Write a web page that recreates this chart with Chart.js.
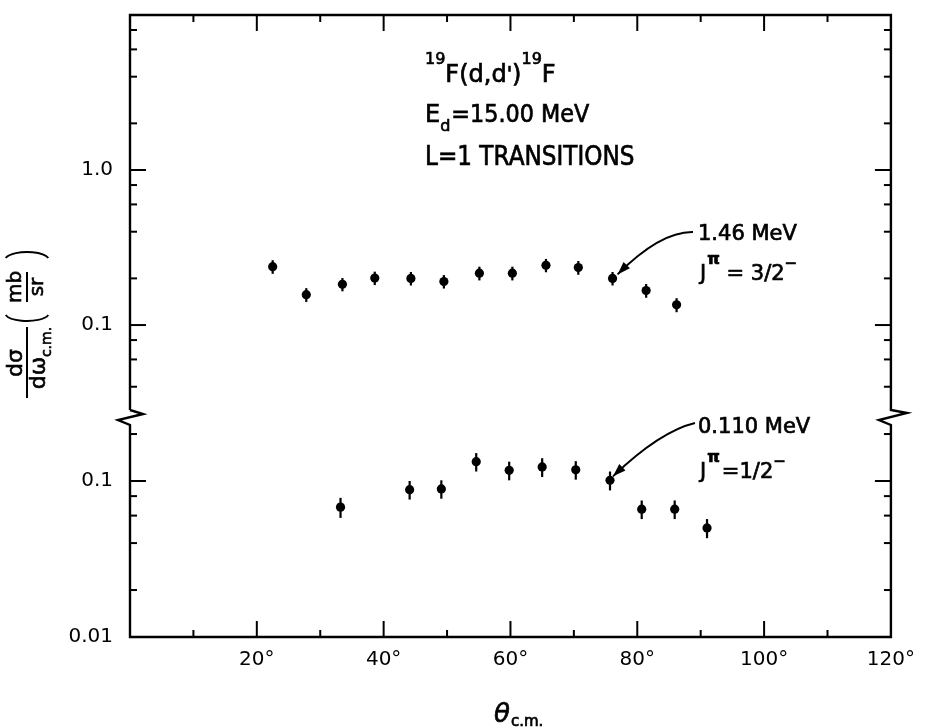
<!DOCTYPE html>
<html>
<head>
<meta charset="utf-8">
<script src="https://cdn.jsdelivr.net/npm/chart.js@4.4.1/dist/chart.umd.min.js"></script>
<style>
  html, body { margin: 0; padding: 0; background: #fff; }
  #wrap { width: 926px; height: 727px; }
</style>
</head>
<body>
<div id="wrap"><canvas id="chart" width="926" height="727"></canvas></div>
<script>
// 1.46 MeV, J = 3/2- (upper panel)
const upperAngles = [22.5, 27.8, 33.5, 38.6, 44.3, 49.5, 55.1, 60.3, 65.6, 70.7, 76.1, 81.4, 86.2];
const upperValues = [0.238, 0.157, 0.183, 0.201, 0.200, 0.191, 0.216, 0.216, 0.243, 0.235, 0.200, 0.167, 0.135];
const upperErrors = [0.024, 0.016, 0.018, 0.020, 0.020, 0.019, 0.022, 0.022, 0.024, 0.024, 0.020, 0.017, 0.014];

// 0.110 MeV, J = 1/2- (lower panel)
const lowerAngles = [33.2, 44.1, 49.1, 54.6, 59.8, 65.0, 70.3, 75.7, 80.7, 85.9, 91.0];
const lowerValues = [0.068, 0.088, 0.089, 0.133, 0.117, 0.123, 0.118, 0.101, 0.066, 0.066, 0.050];
const lowerErrors = [0.010, 0.012, 0.012, 0.018, 0.016, 0.017, 0.016, 0.014, 0.009, 0.009, 0.007];

// axes
const xTicks = [0, 10, 20, 30, 40, 50, 60, 70, 80, 90, 100, 110, 120];
const xLabelled = [20, 40, 60, 80, 100, 120];
const upperTicks = [0.04, 0.06, 0.08, 0.1, 0.2, 0.4, 0.6, 0.8, 1, 2, 4, 6, 8, 10];
const upperLabelled = [0.1, 1];
const upperLabelText = ['0.1', '1.0'];
const lowerTicks = [0.01, 0.02, 0.04, 0.06, 0.08, 0.1, 0.2];
const lowerLabelled = [0.01, 0.1];
const lowerLabelText = ['0.01', '0.1'];
const upperRange = [0.0259, 10];
const lowerRange = [0.01, 0.261];

const FONT = '"DejaVu Sans", sans-serif';

function labelFor(v, vals, texts) {
  const i = vals.findIndex(t => Math.abs(t - v) < t * 1e-6);
  return i >= 0 ? texts[i] : '';
}

function isDecade(v) {
  const l = Math.log10(v);
  return Math.abs(l - Math.round(l)) < 1e-6;
}

// draw a piece of text (a bit heavier, like the inked lettering), return x where it ends
function txt(ctx, s, x, y, size, opts = {}) {
  ctx.save();
  ctx.translate(x, y);
  ctx.scale(opts.sx || 1, 1);
  ctx.font = (opts.style || '') + ' ' + size + 'px ' + FONT;
  ctx.textAlign = 'left';
  ctx.textBaseline = 'alphabetic';
  ctx.lineWidth = 0.7;
  ctx.fillText(s, 0, 0);
  ctx.strokeText(s, 0, 0);
  const w = ctx.measureText(s).width * (opts.sx || 1);
  ctx.restore();
  return x + w;
}

// rotated text centred on (x, y), baseline to the right
function rtxt(ctx, s, x, y, size) {
  ctx.save();
  ctx.translate(x, y);
  ctx.rotate(-Math.PI / 2);
  ctx.font = size + 'px ' + FONT;
  ctx.textAlign = 'center';
  ctx.textBaseline = 'alphabetic';
  ctx.lineWidth = 0.6;
  ctx.fillText(s, 0, 0);
  ctx.strokeText(s, 0, 0);
  ctx.restore();
}

function arrow(ctx, x0, y0, cx, cy, x1, y1) {
  ctx.beginPath();
  ctx.moveTo(x0, y0);
  ctx.quadraticCurveTo(cx, cy, x1, y1);
  ctx.stroke();
  const ang = Math.atan2(y1 - cy, x1 - cx);
  const L = 13, W = 4.5;
  ctx.beginPath();
  ctx.moveTo(x1, y1);
  ctx.lineTo(x1 - L * Math.cos(ang) + W * Math.sin(ang), y1 - L * Math.sin(ang) - W * Math.cos(ang));
  ctx.lineTo(x1 - L * Math.cos(ang) - W * Math.sin(ang), y1 - L * Math.sin(ang) + W * Math.cos(ang));
  ctx.closePath();
  ctx.fill();
}

const errorBars = {
  id: 'errorBars',
  beforeDatasetsDraw(chart) {
    const ctx = chart.ctx;
    chart.data.datasets.forEach((ds, i) => {
      const meta = chart.getDatasetMeta(i);
      const xs = chart.scales[meta.xAxisID];
      const ys = chart.scales[meta.yAxisID];
      ctx.save();
      ctx.strokeStyle = '#000';
      ctx.lineWidth = 2.2;
      ds.data.forEach((p, j) => {
        const px = xs.getPixelForValue(p.x);
        ctx.beginPath();
        ctx.moveTo(px, ys.getPixelForValue(p.y - ds.errors[j]));
        ctx.lineTo(px, ys.getPixelForValue(p.y + ds.errors[j]));
        ctx.stroke();
      });
      ctx.restore();
    });
  }
};

const frame = {
  id: 'frame',
  afterDraw(chart) {
    const { ctx, chartArea: a, scales } = chart;
    const x = scales.x, yT = scales.yTop, yB = scales.yBot;
    const brk = yT.bottom;
    ctx.save();
    ctx.strokeStyle = '#000';
    ctx.fillStyle = '#000';
    ctx.lineWidth = 2.4;
    ctx.lineJoin = 'miter';

    // box with the zigzag breaks on both sides
    ctx.beginPath();
    ctx.moveTo(a.left, brk - 6);
    ctx.lineTo(a.left, a.top);
    ctx.lineTo(a.right, a.top);
    ctx.lineTo(a.right, brk - 6);
    ctx.lineTo(a.right + 16, brk - 3);
    ctx.lineTo(a.right - 12, brk + 4);
    ctx.lineTo(a.right, brk + 9);
    ctx.lineTo(a.right, a.bottom);
    ctx.lineTo(a.left, a.bottom);
    ctx.lineTo(a.left, brk + 9);
    ctx.lineTo(a.left - 12, brk + 4);
    ctx.lineTo(a.left + 13, brk - 2);
    ctx.lineTo(a.left, brk - 6);
    ctx.stroke();

    // inward ticks
    ctx.lineWidth = 2;
    const major = 16, minor = 7;
    const seg = (x0, y0, x1, y1) => { ctx.beginPath(); ctx.moveTo(x0, y0); ctx.lineTo(x1, y1); ctx.stroke(); };
    xTicks.forEach(v => {
      if (v <= x.min || v >= x.max) return;
      const px = x.getPixelForValue(v);
      const len = v % 20 === 0 ? major : minor;
      seg(px, a.bottom, px, a.bottom - len);
      seg(px, a.top, px, a.top + len);
    });
    [[yT, upperTicks], [yB, lowerTicks]].forEach(([s, ticks]) => {
      ticks.forEach(v => {
        const py = s.getPixelForValue(v);
        if (py <= a.top + 1 || py >= a.bottom - 1) return;
        const len = isDecade(v) ? major : minor;
        seg(a.left, py, a.left + len, py);
        seg(a.right, py, a.right - len, py);
      });
    });

    // reaction label
    let cx = 425;
    cx = txt(ctx, '19', cx, 64, 16);
    cx = txt(ctx, 'F(d,d', cx, 82, 24);
    cx = txt(ctx, '\'', cx, 80, 20);
    cx = txt(ctx, ')', cx, 82, 24);
    cx = txt(ctx, '19', cx, 64, 16);
    txt(ctx, 'F', cx, 82, 24);
    cx = txt(ctx, 'E', 425, 122, 24);
    cx = txt(ctx, 'd', cx, 131, 16);
    txt(ctx, '=15.00 MeV', cx + 1, 122, 24, { sx: 0.93 });
    txt(ctx, 'L=1 TRANSITIONS', 425, 165, 26, { sx: 0.89 });

    // state labels
    txt(ctx, '1.46 MeV', 698, 240, 21);
    cx = txt(ctx, 'J', 700, 280, 21);
    cx = txt(ctx, 'π', cx + 1, 264, 16, { style: 'bold' });
    cx = txt(ctx, ' = 3/2', cx, 280, 21);
    txt(ctx, '−', cx, 268, 15);
    txt(ctx, '0.110 MeV', 698, 433, 21);
    cx = txt(ctx, 'J', 700, 478, 21);
    cx = txt(ctx, 'π', cx + 1, 462, 16, { style: 'bold' });
    cx = txt(ctx, '=1/2', cx + 2, 478, 21);
    txt(ctx, '−', cx, 466, 15);

    // arrows pointing at the 76 deg points
    ctx.lineWidth = 1.8;
    const m1 = chart.getDatasetMeta(0).data[10];
    const m2 = chart.getDatasetMeta(1).data[7];
    const t1 = { x: m1.x + 5, y: m1.y - 4 };
    const t2 = { x: m2.x + 3, y: m2.y - 4 };
    arrow(ctx, 693, 232, t1.x + 43, t1.y - 43, t1.x, t1.y);
    arrow(ctx, 695, 423, t2.x + 47, t2.y - 45, t2.x, t2.y);

    // axis titles
    cx = txt(ctx, 'θ', 494, 722, 26, { style: 'italic' });
    txt(ctx, 'c.m.', cx + 1, 726, 15);

    ctx.lineWidth = 2;
    rtxt(ctx, 'dσ', 22, 363, 22);
    seg(27, 327, 27, 398);
    rtxt(ctx, 'dω', 45, 373, 22);
    rtxt(ctx, 'c.m.', 51, 342, 14);
    rtxt(ctx, 'mb', 21, 287, 20);
    seg(27, 272, 27, 302);
    rtxt(ctx, 'sr', 43, 287, 20);
    ctx.lineWidth = 1.8;
    ctx.beginPath();
    ctx.ellipse(27, 313, 22, 8, 0, Math.PI * 0.08, Math.PI * 0.92);
    ctx.stroke();
    ctx.beginPath();
    ctx.ellipse(27, 260, 22, 8, 0, Math.PI * 1.08, Math.PI * 1.92);
    ctx.stroke();

    ctx.restore();
  }
};

const tickFont = { family: FONT, size: 20 };

// y scales: fixed width, and no extra top/bottom padding from the labels
const fitY = s => { s.width = 130; s.paddingTop = 0; s.paddingBottom = 0; };

new Chart(document.getElementById('chart'), {
  type: 'scatter',
  data: {
    datasets: [
      {
        label: '1.46 MeV',
        data: upperAngles.map((a, i) => ({ x: a, y: upperValues[i] })),
        errors: upperErrors,
        yAxisID: 'yTop'
      },
      {
        label: '0.110 MeV',
        data: lowerAngles.map((a, i) => ({ x: a, y: lowerValues[i] })),
        errors: lowerErrors,
        yAxisID: 'yBot'
      }
    ]
  },
  options: {
    responsive: false,
    animation: false,
    layout: { padding: { top: 15, right: 34, left: 0, bottom: 0 } },
    elements: {
      point: { radius: 4.6, backgroundColor: '#000', borderColor: '#000', borderWidth: 0 }
    },
    plugins: {
      legend: { display: false },
      tooltip: { enabled: false }
    },
    scales: {
      x: {
        type: 'linear',
        min: 0,
        max: 120,
        grid: { display: false, drawTicks: false },
        border: { display: false },
        afterBuildTicks: s => { s.ticks = xTicks.map(v => ({ value: v })); },
        afterFit: s => { s.height = 90; },
        ticks: {
          font: tickFont,
          color: '#000',
          padding: 11,
          maxRotation: 0,
          autoSkip: false,
          callback: v => xLabelled.includes(v) ? v + '°' : ''
        }
      },
      yTop: {
        type: 'logarithmic',
        position: 'left',
        stack: 'y',
        stackWeight: 401,
        weight: 2,
        min: upperRange[0],
        max: upperRange[1],
        grid: { display: false, drawTicks: false },
        border: { display: false },
        afterBuildTicks: s => { s.ticks = upperTicks.map(v => ({ value: v })); },
        afterFit: fitY,
        ticks: {
          font: tickFont,
          color: '#000',
          padding: 17,
          autoSkip: false,
          callback: v => labelFor(v, upperLabelled, upperLabelText)
        }
      },
      yBot: {
        type: 'logarithmic',
        position: 'left',
        stack: 'y',
        stackWeight: 221,
        weight: 1,
        min: lowerRange[0],
        max: lowerRange[1],
        grid: { display: false, drawTicks: false },
        border: { display: false },
        afterBuildTicks: s => { s.ticks = lowerTicks.map(v => ({ value: v })); },
        afterFit: fitY,
        ticks: {
          font: tickFont,
          color: '#000',
          padding: 17,
          autoSkip: false,
          callback: v => labelFor(v, lowerLabelled, lowerLabelText)
        }
      }
    }
  },
  plugins: [errorBars, frame]
});
</script>
</body>
</html>
